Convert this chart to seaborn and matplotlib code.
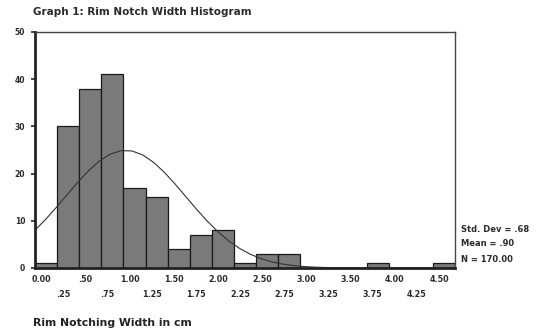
import numpy as np
import pandas as pd
import matplotlib
matplotlib.use("Agg")
import matplotlib.pyplot as plt
import matplotlib.transforms as mtransforms
import seaborn as sns

# Bin centres (cm) and counts of rim notch widths
bin_centers = [0.00, 0.25, 0.50, 0.75, 1.00, 1.25, 1.50, 1.75, 2.00, 2.25,
               2.50, 2.75, 3.00, 3.25, 3.50, 3.75, 4.00, 4.25, 4.50]
counts = [1, 30, 38, 41, 17, 15, 4, 7, 8, 1,
          3, 3, 0, 0, 0, 1, 0, 0, 1]

# Summary statistics printed beside the plot
std_dev = 0.68
mean = 0.90
n_total = 170.00

upper_ticks = [0.00, 0.50, 1.00, 1.50, 2.00, 2.50, 3.00, 3.50, 4.00, 4.50]
upper_labels = ["0.00", ".50", "1.00", "1.50", "2.00", "2.50", "3.00", "3.50", "4.00", "4.50"]
lower_ticks = [0.25, 0.75, 1.25, 1.75, 2.25, 2.75, 3.25, 3.75, 4.25]
lower_labels = [".25", ".75", "1.25", "1.75", "2.25", "2.75", "3.25", "3.75", "4.25"]
y_ticks = [0, 10, 20, 30, 40, 50]

bin_width = 0.25
lo = bin_centers[0] - bin_width / 2
hi = bin_centers[-1] + bin_width / 2

sns.set_style("ticks")
plt.rcParams["font.family"] = ["DejaVu Sans"]

TXT = "#2b2b2b"

fig = plt.figure(figsize=(5.38, 3.36), dpi=100)
ax = fig.add_axes([0.065, 0.2024, 0.781, 0.7024])

df = pd.DataFrame({"width": bin_centers, "count": counts})
sns.histplot(data=df, x="width", weights="count", binwidth=bin_width,
             binrange=(lo, hi), ax=ax,
             color="#7a7a7a", edgecolor="#1a1a1a", linewidth=0.9, alpha=1.0)

# Fitted normal curve scaled to counts per bin
xs = np.linspace(lo, hi, 40)
curve = n_total * bin_width / (std_dev * np.sqrt(2 * np.pi)) * np.exp(-0.5 * ((xs - mean) / std_dev) ** 2)
sns.lineplot(x=xs, y=curve, ax=ax, color="#333333", linewidth=0.8)

ax.set_xlim(lo, hi)
ax.set_ylim(0, 50)
ax.set_yticks(y_ticks)
ax.set_yticklabels([str(v) for v in y_ticks], fontsize=5.5, fontweight="bold", color=TXT)
ax.tick_params(axis="y", length=3, width=1.2, pad=4)

ax.set_xticks(upper_ticks)
ax.set_xticklabels(upper_labels, fontsize=5.8, fontweight="bold", color=TXT)
ax.set_xticks(lower_ticks, minor=True)
ax.set_xticklabels(lower_labels, minor=True, fontsize=5.8, fontweight="bold", color=TXT)
ax.tick_params(axis="x", which="major", length=0, pad=5)
ax.tick_params(axis="x", which="minor", length=0, pad=16)

shift = mtransforms.ScaledTranslation(-5 / 100, 0, fig.dpi_scale_trans)
for lab in ax.get_xticklabels(which="both"):
    lab.set_transform(lab.get_transform() + shift)

for side in ["left", "bottom"]:
    ax.spines[side].set_linewidth(2.0)
    ax.spines[side].set_color("#222222")
for side in ["top", "right"]:
    ax.spines[side].set_visible(True)
    ax.spines[side].set_linewidth(1.0)
    ax.spines[side].set_color("#444444")

ax.set_xlabel("")
ax.set_ylabel("")

fig.text(0.061, 0.964, "Graph 1: Rim Notch Width Histogram", fontsize=7.5,
         fontweight="bold", color=TXT, ha="left", va="center")
fig.text(0.061, 0.039, "Rim Notching Width in cm", fontsize=7.8,
         fontweight="bold", color="#222222", ha="left", va="center")

stats = [f"Std. Dev = {std_dev:.2f}".replace("0.", "."),
         f"Mean = {mean:.2f}".replace("0.", "."),
         f"N = {n_total:.2f}"]
for i, s in enumerate(stats):
    fig.text(0.857, 1 - (229 + i * 15) / 336, s, fontsize=6.0, fontweight="bold",
             color=TXT, ha="left", va="center")

fig.savefig("out.png", dpi=100)
